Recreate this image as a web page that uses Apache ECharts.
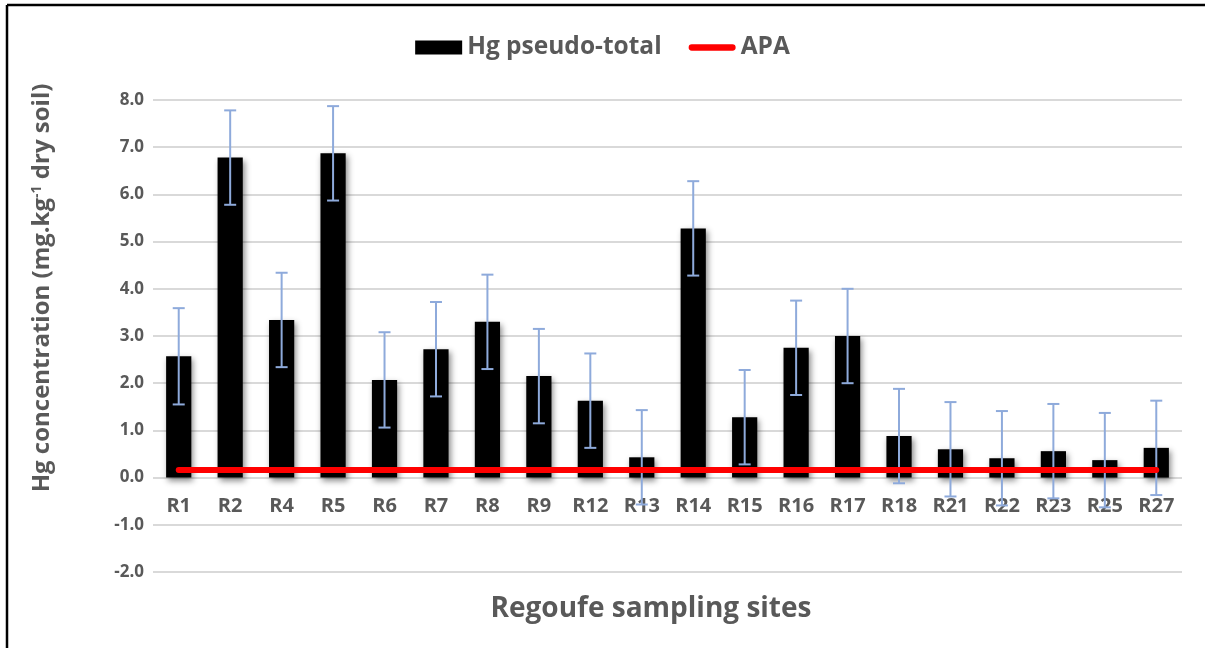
<!DOCTYPE html>
<html>
<head>
<meta charset="utf-8">
<script src="https://cdn.jsdelivr.net/npm/echarts@6/dist/echarts.min.js"></script>
<style>
html,body{margin:0;padding:0;background:#fff}
#main{width:1205px;height:648px}
</style>
</head>
<body>
<div id="main"></div>
<script>
var sites = ['R1','R2','R4','R5','R6','R7','R8','R9','R12','R13','R14','R15','R16','R17','R18','R21','R22','R23','R25','R27']
var hgValues = [2.57,6.78,3.34,6.87,2.07,2.72,3.30,2.15,1.63,0.43,5.28,1.28,2.75,3.00,0.88,0.60,0.41,0.56,0.37,0.63]
var hgErrors = [1.02,1.00,1.00,1.00,1.01,1.00,1.00,1.00,1.00,1.00,1.00,1.00,1.00,1.00,1.00,1.00,1.00,1.00,1.00,1.00]
var apaValues = [0.16,0.16,0.16,0.16,0.16,0.16,0.16,0.16,0.16,0.16,0.16,0.16,0.16,0.16,0.16,0.16,0.16,0.16,0.16,0.16]

var font = 'Open Sans'
var grey = '#595959'

// error bar data: [index, low, high]
var errData = hgValues.map(function (v, i) {
    return [i, v - hgErrors[i], v + hgErrors[i]]
})

var myChart = echarts.init(document.getElementById('main'))

var option = {
    animation: false,
    backgroundColor: '#fff',
    legend: {
        top: 30,
        left: 'center',
        itemWidth: 47,
        itemHeight: 14,
        itemGap: 27,
        textStyle: {color: grey, fontSize: 24.5, fontWeight: 'bold', fontFamily: font},
        data: [
            {name: 'Hg pseudo-total', icon: 'rect'},
            {name: 'APA', icon: 'path://M0,0 M52,14 M3.5,3.5 L48.5,3.5 A3.5,3.5 0 0 1 48.5,10.5 L3.5,10.5 A3.5,3.5 0 0 1 3.5,3.5 Z'}
        ]
    },
    grid: {left: 153, right: 23, top: 100, bottom: 76},
    xAxis: {
        type: 'category',
        data: sites,
        // labels sit just under the zero line
        offset: -94.5,
        axisLine: {show: false},
        axisTick: {show: false},
        axisLabel: {color: grey, fontSize: 20, fontWeight: 'bold', fontFamily: font, margin: 19, interval: 0},
        splitLine: {show: false}
    },
    yAxis: {
        type: 'value',
        min: -2,
        max: 8,
        interval: 1,
        axisLine: {show: false},
        axisTick: {show: false},
        axisLabel: {
            color: grey, fontSize: 17, fontWeight: 'bold', fontFamily: font, margin: 9,
            formatter: function (v) { return v.toFixed(1) }
        },
        splitLine: {lineStyle: {color: '#d9d9d9', width: 2}}
    },
    graphic: [
        {type: 'line', shape: {x1: 7, y1: 5, x2: 1205, y2: 5}, style: {stroke: '#000', lineWidth: 2.5}},
        {type: 'line', shape: {x1: 7, y1: 5, x2: 7, y2: 648}, style: {stroke: '#000', lineWidth: 2.5}},
        {
            type: 'text', x: 42, y: 288, rotation: Math.PI / 2,
            style: {
                text: 'Hg concentration (mg.kg{sup|-1} dry soil)',
                fill: grey, fontSize: 24, fontWeight: 'bold', fontFamily: font,
                align: 'center', verticalAlign: 'middle',
                rich: {sup: {fontSize: 14, fontWeight: 'bold', fill: grey, fontFamily: font, verticalAlign: 'top', padding: [0, 0, 9, 0]}}
            }
        },
        {
            type: 'text', x: 651, y: 609,
            style: {
                text: 'Regoufe sampling sites', fill: grey, fontSize: 28, fontWeight: 'bold', fontFamily: font,
                align: 'center', verticalAlign: 'middle'
            }
        }
    ],
    series: [
        {
            name: 'Hg pseudo-total',
            type: 'bar',
            data: hgValues,
            barWidth: '49%',
            z: 2,
            itemStyle: {
                color: '#000',
                shadowColor: 'rgba(0,0,0,0.45)',
                shadowBlur: 6,
                shadowOffsetX: 2,
                shadowOffsetY: 3
            }
        },
        {
            name: 'error',
            type: 'custom',
            z: 3,
            data: errData,
            encode: {x: 0, y: [1, 2]},
            renderItem: function (params, api) {
                var x = api.value(0)
                var lo = api.coord([x, api.value(1)])
                var hi = api.coord([x, api.value(2)])
                var w = 6
                var st = {stroke: '#8eaadb', lineWidth: 2}
                return {
                    type: 'group',
                    children: [
                        {type: 'line', shape: {x1: hi[0], y1: hi[1], x2: lo[0], y2: lo[1]}, style: st},
                        {type: 'line', shape: {x1: hi[0] - w, y1: hi[1], x2: hi[0] + w, y2: hi[1]}, style: st},
                        {type: 'line', shape: {x1: lo[0] - w, y1: lo[1], x2: lo[0] + w, y2: lo[1]}, style: st}
                    ]
                }
            }
        },
        {
            name: 'APA',
            type: 'line',
            data: apaValues,
            z: 4,
            symbol: 'none',
            color: '#ff0000',
            lineStyle: {color: '#ff0000', width: 6, cap: 'round'}
        }
    ]
}
myChart.setOption(option)
</script>
</body>
</html>
